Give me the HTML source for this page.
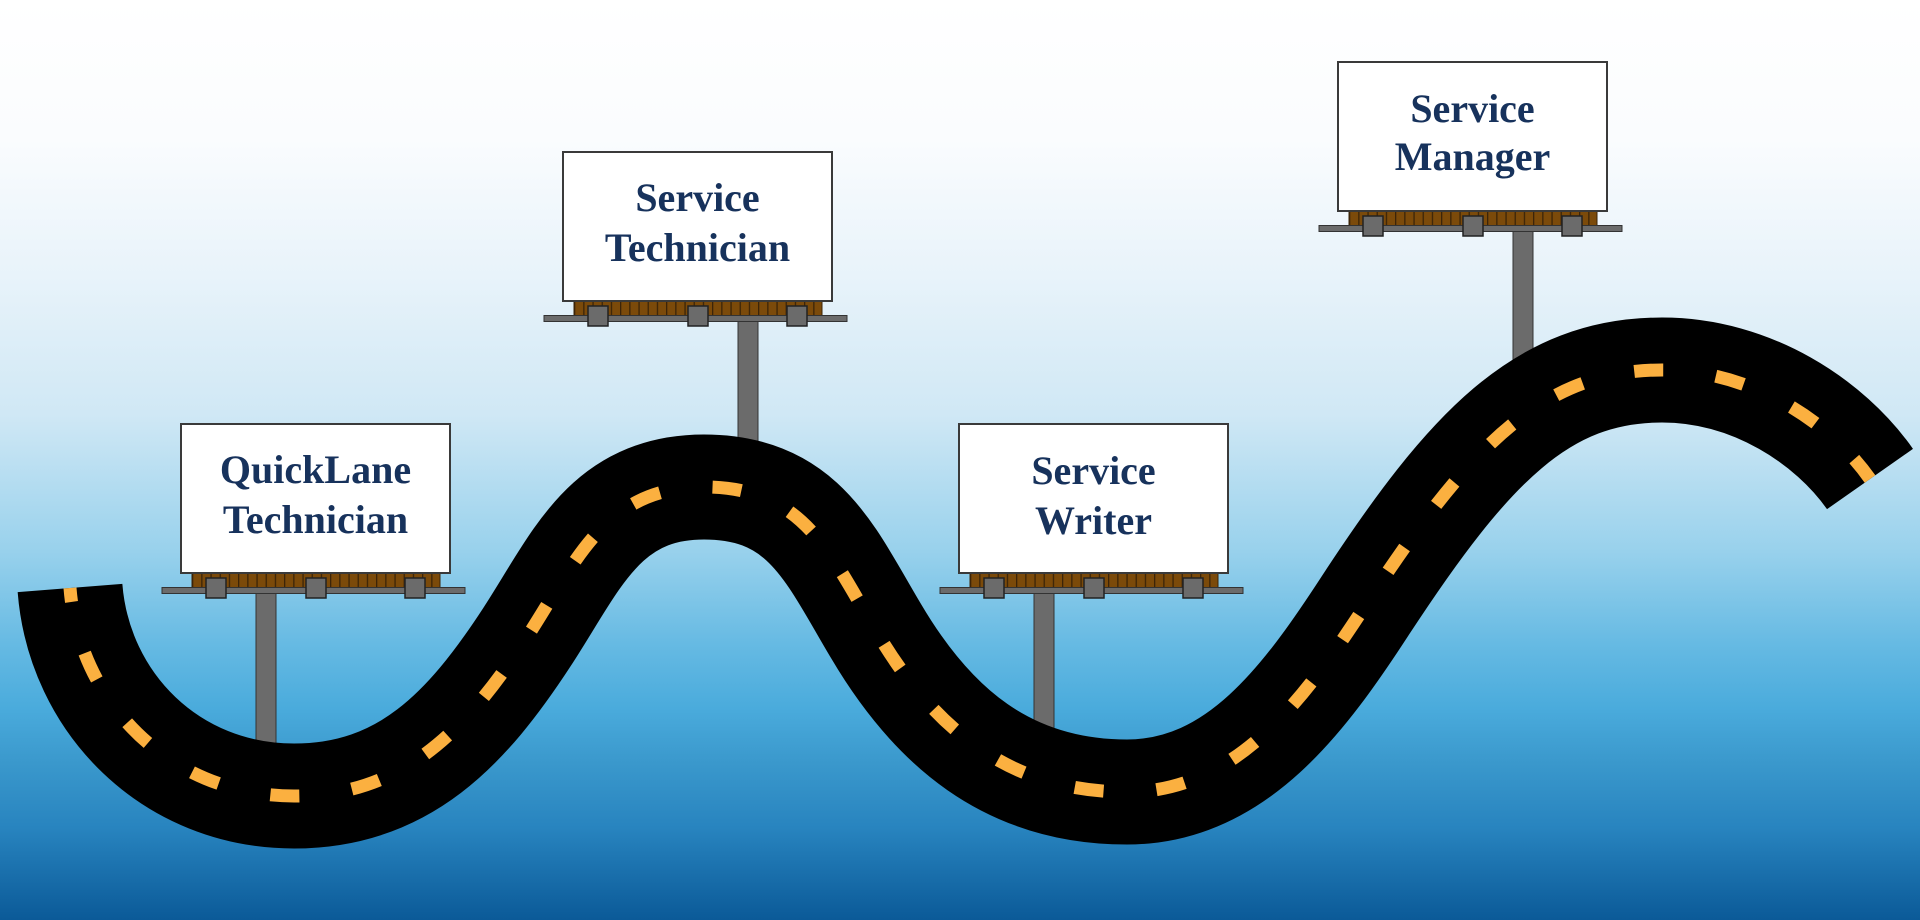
<!DOCTYPE html>
<html>
<head>
<meta charset="utf-8">
<style>
  html, body { margin: 0; padding: 0; width: 1920px; height: 920px; overflow: hidden; background: #fff; }
  svg { display: block; }
  .lbl { font-family: "Liberation Serif", serif; font-weight: bold; font-size: 40px; fill: #17325c; text-anchor: middle; }
</style>
</head>
<body>
<svg width="1920" height="920" viewBox="0 0 1920 920" xmlns="http://www.w3.org/2000/svg">
  <defs>
    <linearGradient id="sky" x1="0" y1="0" x2="0" y2="1">
      <stop offset="0" stop-color="#ffffff"/>
      <stop offset="0.15" stop-color="#fafcfe"/>
      <stop offset="0.30" stop-color="#e8f3fa"/>
      <stop offset="0.45" stop-color="#d0e8f5"/>
      <stop offset="0.60" stop-color="#98d1ec"/>
      <stop offset="0.70" stop-color="#66bae3"/>
      <stop offset="0.77" stop-color="#4aabdc"/>
      <stop offset="0.83" stop-color="#3a98cc"/>
      <stop offset="0.90" stop-color="#2884bf"/>
      <stop offset="1" stop-color="#0b5a98"/>
    </linearGradient>
    <pattern id="slats" x="11" y="0" width="9.2" height="20" patternUnits="userSpaceOnUse">
      <rect x="0" y="0" width="9.2" height="20" fill="#7b4a0a"/>
      <rect x="0" y="0" width="1.3" height="20" fill="#3b2408"/>
    </pattern>
    <g id="base">
      <rect x="11" y="149" width="248" height="15" fill="url(#slats)" stroke="#3b2408" stroke-width="1"/>
      <rect x="-19" y="163.5" width="303" height="6" fill="#6b6b6b" stroke="#333" stroke-width="1"/>
      <rect x="25" y="154" width="20" height="20" fill="#6b6b6b" stroke="#222" stroke-width="1.5"/>
      <rect x="125" y="154" width="20" height="20" fill="#6b6b6b" stroke="#222" stroke-width="1.5"/>
      <rect x="224" y="154" width="20" height="20" fill="#6b6b6b" stroke="#222" stroke-width="1.5"/>
      <rect x="0" y="0" width="269" height="149" fill="#ffffff" stroke="#3a3a3a" stroke-width="2"/>
    </g>
  </defs>

  <rect x="0" y="0" width="1920" height="920" fill="url(#sky)"/>

  <!-- poles (behind road) -->
  <rect x="256" y="593" width="20" height="177" fill="#6b6b6b" stroke="#333" stroke-width="1"/>
  <rect x="738" y="320" width="20" height="160" fill="#6b6b6b" stroke="#333" stroke-width="1"/>
  <rect x="1034" y="593" width="20" height="177" fill="#6b6b6b" stroke="#333" stroke-width="1"/>
  <rect x="1513" y="231" width="20" height="170" fill="#6b6b6b" stroke="#333" stroke-width="1"/>

  <!-- road -->
  <path d="M 70 588
           C 79 703, 171 796, 294 796
           C 404 796, 467 729, 527 637
           C 576 562, 604 487, 704 487
           C 804 487, 830 554, 876 631
           C 932 726, 1007 792, 1127 792
           C 1237 792, 1305 698, 1365 606
           C 1469 447, 1542 370, 1662 370
           C 1752 370, 1830 422, 1870 479"
        fill="none" stroke="#000" stroke-width="105" stroke-linecap="butt"/>
  <path d="M 70 588
           C 79 703, 171 796, 294 796
           C 404 796, 467 729, 527 637
           C 576 562, 604 487, 704 487
           C 804 487, 830 554, 876 631
           C 932 726, 1007 792, 1127 792
           C 1237 792, 1305 698, 1365 606
           C 1469 447, 1542 370, 1662 370
           C 1752 370, 1830 422, 1870 479"
        fill="none" stroke="#fbb040" stroke-width="13" stroke-dasharray="29 53" stroke-dashoffset="15"/>

  <!-- billboards -->
  <g transform="translate(181,424)">
    <use href="#base"/>
    <text class="lbl" x="134.5" y="59">QuickLane</text>
    <text class="lbl" x="134.5" y="109">Technician</text>
  </g>
  <g transform="translate(563,152)">
    <use href="#base"/>
    <text class="lbl" x="134.5" y="59">Service</text>
    <text class="lbl" x="134.5" y="109">Technician</text>
  </g>
  <g transform="translate(959,424)">
    <use href="#base"/>
    <text class="lbl" x="134.5" y="60">Service</text>
    <text class="lbl" x="134.5" y="110">Writer</text>
  </g>
  <g transform="translate(1338,62)">
    <use href="#base"/>
    <text class="lbl" x="134.5" y="60">Service</text>
    <text class="lbl" x="134.5" y="108">Manager</text>
  </g>
</svg>
</body>
</html>
